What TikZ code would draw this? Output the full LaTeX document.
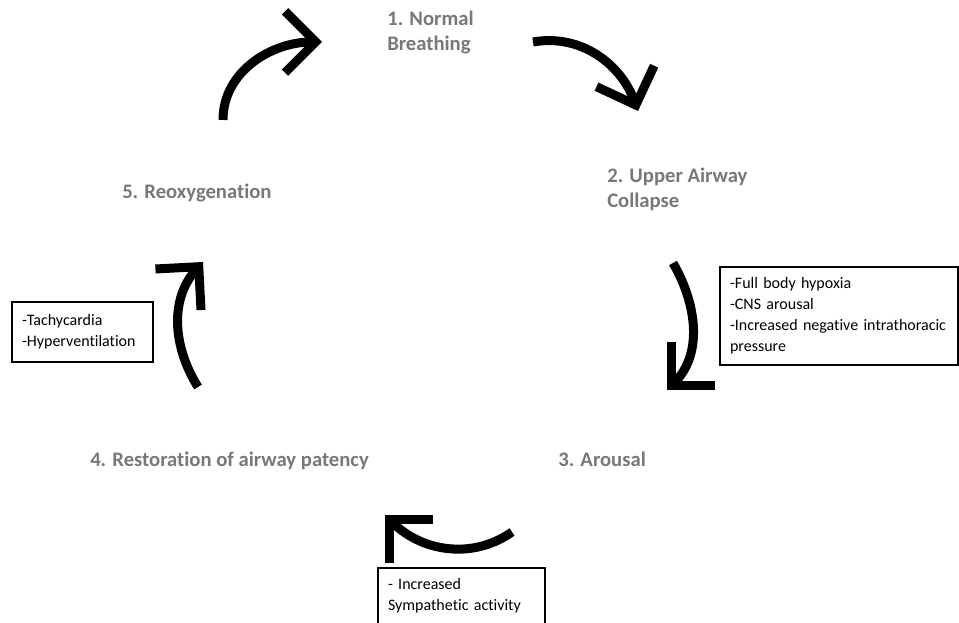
\documentclass[tikz,border=0pt]{standalone}
\usepackage{fontspec}
\setmainfont{Carlito}[Ligatures=NoCommon]
\usetikzlibrary{arrows.meta}
\definecolor{stagegray}{RGB}{120,120,120}

\begin{document}
\begin{tikzpicture}[x=0.75pt,y=0.75pt,
    stage/.style={text=stagegray, font=\fontsize{15.5}{18.75}\selectfont\bfseries,
      align=left, anchor=base west, inner sep=0pt},
    notebox/.style={draw, line width=0.8pt, font=\fontsize{12}{15.75}\selectfont,
      align=left, inner xsep=7.5pt, inner ysep=0pt},
    cyclearrow/.style={line width=6.75pt,
      -{Straight Barb[length=23pt,width=46pt,sharp]}}]
  \clip (0,0) rectangle (959,623);

  % stages of the cycle
  \node[stage] (normal) at (387,572) {1. Normal\\Breathing};
  \node[stage] (collapse) at (607,415) {2. Upper Airway\\Collapse};
  \node[stage] (arousal) at (558,156) {3. Arousal};
  \node[stage] (patency) at (90,156) {4. Restoration of airway patency};
  \node[stage] (reoxy) at (122,424) {5. Reoxygenation};

  % notes next to the arrows
  \node[notebox, text width=163.5pt, minimum height=73.5pt] (hypoxia) at (839,307)
    {-Full body hypoxia\\-CNS arousal\\-Increased negative intrathoracic\\pressure};
  \node[notebox, text width=90.75pt, minimum height=45pt] (tachy) at (82.5,291)
    {-Tachycardia\\-Hyperventilation};
  \node[notebox, text width=110.25pt, minimum height=42pt] (sympa) at (461.5,27)
    {- Increased\\Sympathetic activity};

  % arrows between the stages
  \coordinate (a1s) at (223,503); \coordinate (a1e) at (322,581);
  \coordinate (a2s) at (533,581); \coordinate (a2e) at (638,512);
  \coordinate (a3s) at (673,360); \coordinate (a3e) at (667,233);
  \coordinate (a4s) at (512,91);  \coordinate (a4e) at (385,108);
  \coordinate (a5s) at (198,236); \coordinate (a5e) at (203,361);
  \draw[cyclearrow] (a1s) to[out=90,in=180] (a1e);
  \draw[cyclearrow] (a2s) to[out=10,in=110] (a2e);
  \draw[cyclearrow] (a3s) to[out=-60,in=45] (a3e);
  \draw[cyclearrow] (a4s) to[out=215,in=-45] (a4e);
  \draw[cyclearrow] (a5s) to[out=122,in=228] (a5e);
\end{tikzpicture}
\end{document}
